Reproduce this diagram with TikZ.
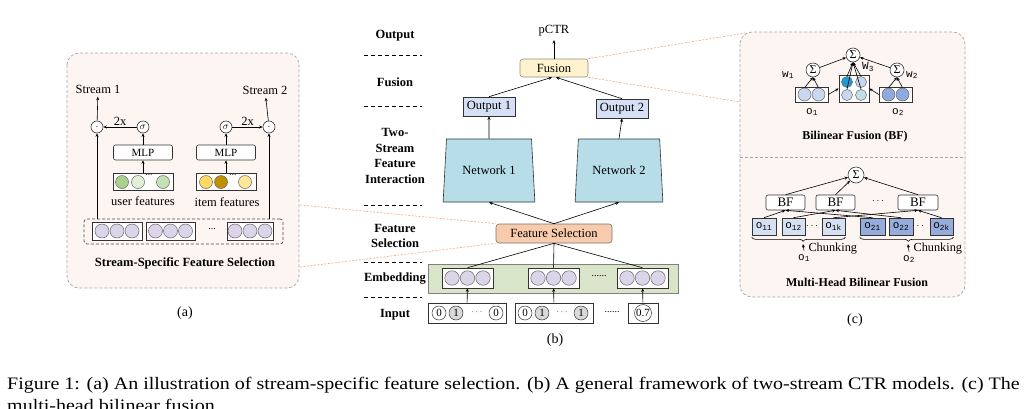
\documentclass[tikz,border=0pt]{standalone}
\usepackage{fontspec}
\setmainfont{Liberation Serif}
\setmonofont{Liberation Mono}
\usetikzlibrary{arrows.meta,shapes.geometric,decorations.pathreplacing,calc}
\definecolor{panelbg}{HTML}{FDF5F1}
\definecolor{panelbd}{HTML}{A6A6A6}
\definecolor{lav}{HTML}{DCD5EA}
\definecolor{netc}{HTML}{B6DDE8}
\definecolor{outc}{HTML}{D6E0F5}
\definecolor{fusc}{HTML}{FFF2CC}
\definecolor{fsc}{HTML}{F8CBAD}
\definecolor{embc}{HTML}{D8E5C8}
\definecolor{peach}{HTML}{F4B183}
\definecolor{gA}{HTML}{A9D18E}
\definecolor{gB}{HTML}{E2F0D9}
\definecolor{gC}{HTML}{C5E0B4}
\definecolor{yA}{HTML}{FFD966}
\definecolor{yB}{HTML}{BF9000}
\definecolor{yC}{HTML}{FFE699}
\definecolor{bA}{HTML}{C9D7F0}
\definecolor{bB}{HTML}{8FAADC}
\definecolor{bC}{HTML}{1E9BD7}
\definecolor{bD}{HTML}{BFE0E5}
\definecolor{oL}{HTML}{D6E0F3}
\definecolor{oD}{HTML}{95ACDD}
\definecolor{grayc}{HTML}{D9D9D9}
\tikzset{
  arr/.style={-{Stealth[length=3.5pt,width=3pt]}, line width=0.6pt},
  ln/.style={line width=0.6pt},
  bx/.style={draw=black!80, line width=0.6pt, inner sep=0pt},
  lbl/.style={font=\fontsize{12.5}{14}\selectfont},
  blbl/.style={font=\bfseries\fontsize{12.5}{14.5}\selectfont, align=center},
  circ/.style={circle, draw=black!60, line width=0.5pt, minimum size=13pt, inner sep=0pt},
  smallc/.style={circle, draw=black!80, line width=0.6pt, minimum size=12pt, inner sep=0pt, fill=white},
  panel/.style={draw=panelbd, dashed, dash pattern=on 3pt off 2pt, fill=panelbg, rounded corners=12pt, line width=0.7pt},
  peachln/.style={draw=peach, dash pattern=on 2pt off 1.5pt, line width=0.7pt},
  sep/.style={dash pattern=on 4pt off 3pt, line width=0.6pt},
  tt/.style={font=\ttfamily\fontsize{11}{12}\selectfont},
}
\begin{document}
\begin{tikzpicture}[x=1pt,y=-1pt]
\useasboundingbox (0,0) rectangle (1030,408);
\clip (0,0) rectangle (1030,408);

% ---------------- panel (a) ----------------
\draw[panel] (67,53) rectangle (299,288);
\node[lbl] (st1) at (98,89) {Stream 1};
\node[lbl] (st2) at (265,90) {Stream 2};
\node[smallc] (dot1) at (97,127) {$\cdot$};
\node[smallc] (sg1) at (143,127) {$\sigma$};
\node[smallc] (sg2) at (226,127) {$\sigma$};
\node[smallc] (dot2) at (269,127) {$\cdot$};
\node[bx, fill=white, rounded corners=2pt, minimum width=59pt, minimum height=15pt, font=\fontsize{11}{12}\selectfont] (mlp1) at (143,152.5) {MLP};
\node[bx, fill=white, rounded corners=2pt, minimum width=59pt, minimum height=15pt, font=\fontsize{11}{12}\selectfont] (mlp2) at (226,152.5) {MLP};
\node[bx, fill=white, minimum width=60pt, minimum height=17pt] (uf) at (143,181.5) {};
\node[circ, fill=gA] (ua) at (122,182) {};
\node[circ, fill=gB] (ub) at (138,182) {};
\node[font=\fontsize{9}{9}\selectfont] (ud) at (149,175) {...};
\node[circ, fill=gC] (uc) at (163,182) {};
\node[bx, fill=white, minimum width=60pt, minimum height=17pt] (itf) at (226,181.5) {};
\node[circ, fill=yA] (ia) at (206,182) {};
\node[circ, fill=yB] (ib) at (221,182) {};
\node[font=\fontsize{9}{9}\selectfont] (idt) at (233,175) {...};
\node[circ, fill=yC] (ic) at (245,182) {};
\node[lbl] (ufl) at (143,201) {user features};
\node[lbl] (ifl) at (227,202) {item features};
\node[draw=black!70, dashed, dash pattern=on 3pt off 2pt, line width=0.7pt, rounded corners=3pt, minimum width=199pt, minimum height=25pt] (dsel) at (183.5,231.5) {};
\foreach \n/\cx/\w in {sa/117/50, sb/170.5/49, sc/250/46}{
  \node[bx, fill=white, minimum width=\w pt, minimum height=18pt] (\n) at (\cx,231) {};
  \node[circ, fill=lav, minimum size=14pt] (\n1) at (\cx-15,231) {};
  \node[circ, fill=lav, minimum size=14pt] (\n2) at (\cx,231) {};
  \node[circ, fill=lav, minimum size=14pt] (\n3) at (\cx+15,231) {};
}
\node[font=\fontsize{10}{10}\selectfont] (sdots) at (212,229) {...};
\draw[arr] (dot1 |- dsel.north) -- (dot1);
\draw[arr] (dot2 |- dsel.north) -- (dot2);
\draw[arr] (dot1) -- (st1);
\draw[arr] (dot2) -- (st2);
\draw[arr] (sg1) -- node[above, lbl, inner sep=1pt] {2x} (dot1);
\draw[arr] (sg2) -- node[above, lbl, inner sep=1pt] {2x} (dot2);
\draw[arr] (mlp1) -- (sg1);
\draw[arr] (mlp2) -- (sg2);
\draw[arr] (uf) -- (mlp1);
\draw[arr] (itf) -- (mlp2);
\node[blbl] (ta) at (185,263) {Stream-Specific Feature Selection};
\node[lbl, font=\fontsize{14}{15}\selectfont] (la) at (185,313) {(a)};

% ---------------- panel (b) ----------------
\node[blbl] (lOut) at (395,36) {Output};
\node[blbl] (lFus) at (395,82) {Fusion};
\node[blbl, font=\bfseries\fontsize{12.5}{15.5}\selectfont] (lTwo) at (395,156) {Two-\\Stream\\Feature\\Interaction};
\node[blbl, font=\bfseries\fontsize{12.5}{15.5}\selectfont] (lFS) at (395,236) {Feature\\Selection};
\node[blbl] (lEmb) at (395,279) {Embedding};
\node[blbl] (lIn) at (395,315) {Input};
\foreach \yy in {55,106,205,262,297}{
  \draw[sep] (364,\yy) -- (422,\yy);
}
\node[bx, draw=black!45, fill=fusc, rounded corners=3pt, minimum width=68pt, minimum height=18pt, lbl] (fus) at (554,68) {Fusion};
\node[lbl] (pctr) at (554,31) {pCTR};
\node[bx, fill=outc, minimum width=52pt, minimum height=19pt, lbl] (out1) at (489,106.5) {Output 1};
\node[bx, fill=outc, minimum width=52pt, minimum height=19pt, lbl] (out2) at (622,108.5) {Output 2};
\node[trapezium, trapezium angle=76.5, trapezium stretches=true, draw=black!80, line width=0.6pt, fill=netc, minimum width=92pt, minimum height=63pt, inner sep=0pt, lbl] (net1) at (489,170.5) {Network 1};
\node[trapezium, trapezium angle=76.5, trapezium stretches=true, draw=black!80, line width=0.6pt, fill=netc, minimum width=88pt, minimum height=63pt, inner sep=0pt, lbl] (net2) at (619,170.5) {Network 2};
\node[bx, fill=fsc, draw=black!55, rounded corners=3pt, minimum width=116pt, minimum height=19pt, lbl] (fs) at (554,233.5) {Feature Selection};
\node[bx, draw=black!50, fill=embc, minimum width=250pt, minimum height=29pt] (emb) at (553,278.5) {};
\foreach \n/\cx in {ea/467.5, eb/553.5, ec/642.5}{
  \node[bx, fill=white, minimum width=51pt, minimum height=20pt] (\n) at (\cx,278) {};
  \node[circ, fill=lav, minimum size=14.5pt] (\n1) at (\cx-15.5,278) {};
  \node[circ, fill=lav, minimum size=14.5pt] (\n2) at (\cx,278) {};
  \node[circ, fill=lav, minimum size=14.5pt] (\n3) at (\cx+15.5,278) {};
}
\node[font=\fontsize{10}{10}\selectfont] (edots) at (599,276) {......};
% inputs
\node[bx, fill=white, minimum width=78pt, minimum height=20pt] (in1) at (467,313) {};
\node[bx, fill=white, minimum width=78pt, minimum height=20pt] (in2) at (554,313) {};
\node[bx, fill=white, minimum width=30pt, minimum height=20pt] (in3) at (643,313) {};
\tikzset{ic/.style={circle, draw=black!80, line width=0.5pt, minimum size=14pt, inner sep=0pt, font=\fontsize{11}{11}\selectfont}}
\node[ic, fill=white] (i1a) at (439,313) {0};
\node[ic, fill=grayc] (i1b) at (456,313) {1};
\node[font=\fontsize{9}{9}\selectfont] (i1d) at (477,312) {$\cdots$};
\node[ic, fill=white] (i1c) at (496,313) {0};
\node[ic, fill=white] (i2a) at (525,313) {0};
\node[ic, fill=grayc] (i2b) at (542,313) {1};
\node[font=\fontsize{9}{9}\selectfont] (i2d) at (562,312) {$\cdots$};
\node[ic, fill=grayc] (i2c) at (581,313) {1};
\node[ic, fill=white, minimum size=17pt] (i3a) at (643,313) {0.7};
\node[font=\fontsize{10}{10}\selectfont] (idots) at (612,312) {......};
\draw[arr] (in1) -- (ea);
\draw[arr] (in2) -- (eb);
\draw[arr] (in3) -- (ec);
\draw[ln] (ea.north) -- (fs.south);
\draw[ln] (eb.north) -- (fs.south);
\draw[ln] (ec.north) -- (fs.south);
\draw[arr] (fs.north) -- (net1.south);
\draw[arr] (fs.north) -- (net2.south);
\draw[arr] (net1.north) -- (out1.south);
\draw[arr] (net2.north) -- (out2.south);
\draw[arr] (out1.north) -- ([xshift=-2pt]fus.south);
\draw[arr] (out2.north) -- ([xshift=2pt]fus.south);
\draw[arr] (fus.north) -- (pctr.south);
\node[lbl, font=\fontsize{14}{15}\selectfont] (lb) at (555,340) {(b)};

% ---------------- peach connectors ----------------
\coordinate (pa1) at (300,205);
\coordinate (pa2) at (300,267);
\coordinate (pc1) at (745,33);
\coordinate (pc2) at (740,102);
\draw[peachln] (pa1) -- (fs.north west);
\draw[peachln] (pa2) -- (fs.south west);
\draw[peachln] (fus.north east) -- (pc1);
\draw[peachln] (fus.south east) -- (pc2);

% ---------------- panel (c) ----------------
\draw[panel] (740,32) rectangle (965,297);
\draw[draw=panelbd, dash pattern=on 3pt off 2pt, line width=0.7pt] (740,157) -- (965,157);
\tikzset{sig/.style={circle, draw=black!80, line width=0.6pt, fill=white, minimum size=14pt, inner sep=0pt, font=\fontsize{12}{12}\selectfont}}
\node[sig] (sT) at (853,55) {Σ};
\node[sig] (sL) at (813,70) {Σ};
\node[sig] (sR) at (897,70) {Σ};
\node[bx, fill=white, minimum width=33pt, minimum height=15pt] (ob1) at (811.5,94.5) {};
\node[circ, fill=bA, minimum size=13pt] (ob1a) at (804.5,94.5) {};
\node[circ, fill=bA, minimum size=13pt] (ob1b) at (818.5,94.5) {};
\node[bx, fill=white, minimum width=30pt, minimum height=27pt] (mb) at (854,88.5) {};
\node[circ, fill=bC, minimum size=11pt] (mba) at (847,82) {};
\node[circ, fill=bA, minimum size=11pt] (mbb) at (861,82) {};
\node[circ, fill=bA, minimum size=11pt] (mbc) at (847,95) {};
\node[circ, fill=bD, minimum size=11pt] (mbd) at (861,95) {};
\node[bx, fill=white, minimum width=33pt, minimum height=15pt] (ob2) at (895.5,94.5) {};
\node[circ, fill=bB, minimum size=13pt] (ob2a) at (888.5,94.5) {};
\node[circ, fill=bB, minimum size=13pt] (ob2b) at (902.5,94.5) {};
\node[tt] (w1) at (788,75) {w\textsubscript{1}};
\node[tt] (w3) at (868,67) {W\textsubscript{3}};
\node[tt] (w2) at (912,75) {w\textsubscript{2}};
\node[tt] (o1) at (812,112) {o\textsubscript{1}};
\node[tt] (o2) at (898,112) {o\textsubscript{2}};
\draw[arr] (ob1a.north) -- (sL.south);
\draw[arr] (ob1b.north) -- (sL.south);
\draw[arr] (ob2a.north) -- (sR.south);
\draw[arr] (ob2b.north) -- (sR.south);
\draw[arr] (sL) -- (sT);
\draw[arr] (sR) -- (sT);
\draw[arr] (mba.north) -- (sT.south);
\draw[arr] (mbb.north) -- (sT.south);
\draw[arr] (mbc.north) -- (sT.south);
\draw[arr] (mbd.north) -- (sT.south);
\draw[arr] (ob1.east) -- (mb.west);
\draw[arr] (ob2.west) -- (mb.east);
\node[blbl, font=\bfseries\fontsize{12}{14}\selectfont] (tbf) at (855,137) {Bilinear Fusion (BF)};

% multi-head
\node[sig, minimum size=16pt] (sM) at (856,175) {Σ};
\tikzset{bfb/.style={bx, fill=white, rounded corners=2pt, minimum height=15pt, font=\fontsize{13}{13}\selectfont}}
\node[bfb, minimum width=39pt] (bf1) at (785.5,202.5) {BF};
\node[bfb, minimum width=39pt] (bf2) at (835.5,202.5) {BF};
\node[bfb, minimum width=40pt] (bf3) at (918,202.5) {BF};
\node[font=\fontsize{10}{10}\selectfont] (bfd) at (878,201) {$\cdots$};
\tikzset{ob/.style={bx, minimum height=17pt, tt}}
\node[ob, fill=oL, minimum width=24pt] (o11) at (764,226.5) {o\textsubscript{11}};
\node[ob, fill=oL, minimum width=23pt] (o12) at (793.5,226.5) {o\textsubscript{12}};
\node[font=\fontsize{10}{10}\selectfont] (od1) at (812,226) {$\cdots$};
\node[ob, fill=oL, minimum width=23pt] (o1k) at (833.5,226.5) {o\textsubscript{1k}};
\node[ob, fill=oD, minimum width=25pt] (o21) at (872.5,226.5) {o\textsubscript{21}};
\node[ob, fill=oD, minimum width=24pt] (o22) at (901,226.5) {o\textsubscript{22}};
\node[font=\fontsize{10}{10}\selectfont] (od2) at (918,226) {$\cdots$};
\node[ob, fill=oD, minimum width=23pt] (o2k) at (941.5,226.5) {o\textsubscript{2k}};
\draw[arr] (bf1.north) -- (sM);
\draw[arr] (bf2.north) -- (sM);
\draw[arr] (bf3.north) -- (sM);
\draw[arr] (o11.north) -- (bf1.south);
\draw[arr] (o21.north) -- (bf1.south);
\draw[arr] (o12.north) -- (bf2.south);
\draw[arr] (o22.north) -- (bf2.south);
\draw[arr] (o1k.north) -- (bf3.south);
\draw[arr] (o2k.north) -- (bf3.south);
\draw[ln, decorate, decoration={brace, amplitude=4pt, aspect=0.55, mirror}] (o11.south west) ++(0,2) -- ($(o1k.south east)+(0,2)$);
\draw[ln, decorate, decoration={brace, amplitude=4pt, aspect=0.52, mirror}] (o21.south west) ++(0,2) -- ($(o2k.south east)+(0,2)$);
\node[tt] (c1) at (804,258) {o\textsubscript{1}};
\node[tt] (c2) at (909,259) {o\textsubscript{2}};
\coordinate (b1tip) at (803,244);
\coordinate (b2tip) at (908,244);
\draw[arr] (c1.north) -- (b1tip);
\draw[arr] (c2.north) -- (b2tip);
\node[lbl, anchor=west, font=\fontsize{12.3}{13}\selectfont] (ch1) at (805,249) {Chunking};
\node[lbl, anchor=west, font=\fontsize{12.3}{13}\selectfont] (ch2) at (910,249) {Chunking};
\node[blbl, font=\bfseries\fontsize{12}{14}\selectfont] (tmh) at (857,282) {Multi-Head Bilinear Fusion};
\node[lbl, font=\fontsize{14}{15}\selectfont] (lc) at (855,320) {(c)};

% ---------------- caption ----------------
\node[anchor=base west, inner sep=0pt, font=\fontsize{17.5}{22}\selectfont] (cap1) at (7,389) {\scalebox{1.143}[1]{Figure 1: (a) An illustration of stream-specific feature selection. (b) A general framework of two-stream CTR models. (c) The}};
\node[anchor=base west, inner sep=0pt, font=\fontsize{17.5}{22}\selectfont] (cap2) at (7,411) {\scalebox{1.143}[1]{multi-head bilinear fusion.}};
\end{tikzpicture}
\end{document}
